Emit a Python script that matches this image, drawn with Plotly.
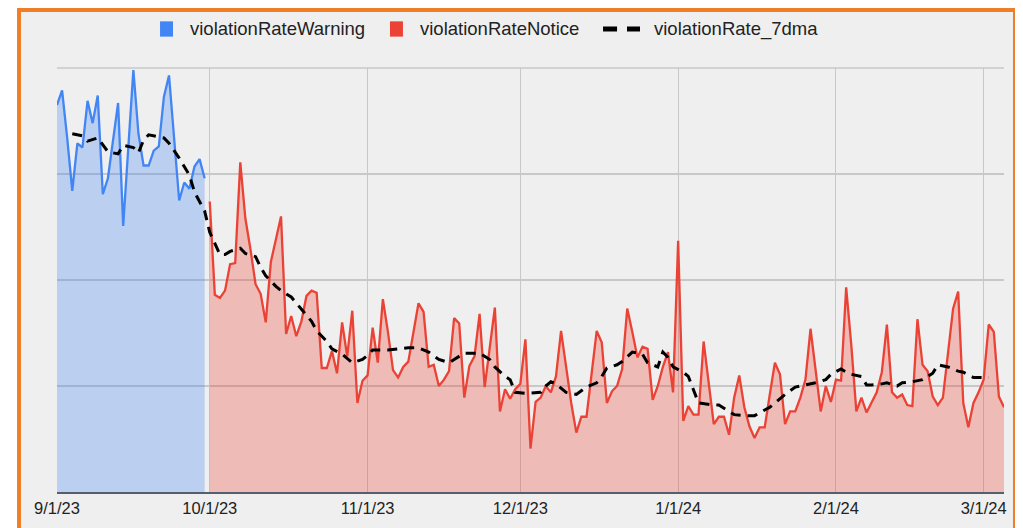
import pandas as pd
import plotly.graph_objects as go

# ---- data ----
warning_start = "2023-09-01"
warning = [3.65, 3.79, 3.34, 2.84, 3.29, 3.25, 3.69, 3.48, 3.74, 2.81,
           2.96, 3.32, 3.67, 2.51, 3.24, 3.98, 3.38, 3.08, 3.08, 3.22,
           3.26, 3.73, 3.93, 3.34, 2.75, 2.92, 2.86, 3.07, 3.14, 2.96]

notice_start = "2023-10-01"
notice = [2.74, 1.86, 1.83, 1.90, 2.15, 2.16, 3.11, 2.58, 2.29, 1.96,
          1.87, 1.60, 2.17, 2.39, 2.60, 1.49, 1.66, 1.47, 1.61, 1.85,
          1.90, 1.88, 1.17, 1.17, 1.33, 1.12, 1.60, 1.28, 1.71, 0.84,
          1.05, 1.10, 1.55, 1.22, 1.82, 1.51, 1.15, 1.08, 1.18, 1.23,
          1.51, 1.78, 1.70, 1.18, 1.20, 1.00, 1.06, 1.14, 1.64, 1.59,
          0.89, 1.19, 1.28, 1.68, 0.99, 1.37, 1.74, 0.76, 0.97, 0.88,
          0.97, 1.02, 1.44, 0.41, 0.85, 0.89, 1.00, 0.94, 1.09, 1.52,
          1.16, 0.84, 0.56, 0.71, 0.71, 1.13, 1.52, 1.41, 0.84, 0.95,
          1.00, 1.16, 1.73, 1.51, 1.27, 1.37, 1.35, 0.87, 1.00, 1.18,
          1.32, 0.94, 2.37, 0.67, 0.81, 0.73, 0.73, 1.42, 1.00, 0.64,
          0.71, 0.71, 0.54, 0.89, 1.10, 0.80, 0.62, 0.51, 0.61, 0.61,
          0.92, 1.22, 1.11, 0.64, 0.76, 0.76, 0.89, 1.06, 1.54, 1.13,
          0.76, 1.00, 0.85, 1.06, 1.05, 1.93, 1.39, 0.76, 0.89, 0.75,
          0.84, 0.94, 1.13, 1.58, 0.94, 0.89, 0.92, 0.82, 0.81, 1.63,
          1.20, 1.14, 0.90, 0.82, 0.89, 1.32, 1.73, 1.89, 0.84, 0.61,
          0.84, 0.94, 1.06, 1.58, 1.51, 0.90, 0.80]

ma_dates = ["2023-09-04", "2023-09-06", "2023-09-07", "2023-09-09", "2023-09-11",
            "2023-09-13", "2023-09-14", "2023-09-16", "2023-09-17", "2023-09-18",
            "2023-09-19", "2023-09-22", "2023-09-23", "2023-09-25", "2023-09-27",
            "2023-09-28", "2023-09-30", "2023-10-01", "2023-10-03", "2023-10-04",
            "2023-10-05", "2023-10-07", "2023-10-08", "2023-10-10", "2023-10-11",
            "2023-10-12", "2023-10-14", "2023-10-15", "2023-10-17", "2023-10-19",
            "2023-10-21", "2023-10-22", "2023-10-24", "2023-10-25", "2023-10-27",
            "2023-10-29", "2023-10-31", "2023-11-01", "2023-11-02", "2023-11-05",
            "2023-11-07", "2023-11-09", "2023-11-11", "2023-11-13", "2023-11-15",
            "2023-11-17", "2023-11-18", "2023-11-20", "2023-11-22", "2023-11-23",
            "2023-11-25", "2023-11-26", "2023-11-28", "2023-11-29", "2023-11-30",
            "2023-12-02", "2023-12-05", "2023-12-06", "2023-12-07", "2023-12-08",
            "2023-12-10", "2023-12-12", "2023-12-14", "2023-12-16", "2023-12-17",
            "2023-12-18", "2023-12-20", "2023-12-21", "2023-12-23", "2023-12-25",
            "2023-12-26", "2023-12-28", "2023-12-29", "2023-12-30", "2023-12-31",
            "2024-01-02", "2024-01-03", "2024-01-04", "2024-01-05", "2024-01-08",
            "2024-01-09", "2024-01-11", "2024-01-12", "2024-01-14", "2024-01-16",
            "2024-01-19", "2024-01-20", "2024-01-22", "2024-01-24", "2024-01-26",
            "2024-01-28", "2024-01-30", "2024-01-31", "2024-02-02", "2024-02-03",
            "2024-02-04", "2024-02-06", "2024-02-07", "2024-02-08", "2024-02-10",
            "2024-02-11", "2024-02-13", "2024-02-14", "2024-02-16", "2024-02-18",
            "2024-02-20", "2024-02-21", "2024-02-23", "2024-02-25", "2024-02-26",
            "2024-02-28", "2024-03-02"]
ma_values = [3.38, 3.36, 3.31, 3.34, 3.21, 3.19, 3.27, 3.25, 3.20, 3.32,
             3.37, 3.34, 3.29, 3.15, 2.99, 2.83, 2.65, 2.45, 2.24, 2.24,
             2.27, 2.30, 2.25, 2.22, 2.12, 2.04, 1.94, 1.90, 1.84, 1.73,
             1.61, 1.52, 1.42, 1.35, 1.30, 1.22, 1.25, 1.29, 1.34, 1.34,
             1.35, 1.36, 1.36, 1.32, 1.25, 1.22, 1.25, 1.31, 1.31, 1.31,
             1.25, 1.18, 1.09, 1.06, 0.94, 0.93, 0.94, 1.00, 1.04, 1.02,
             0.94, 0.92, 0.99, 1.03, 1.09, 1.17, 1.20, 1.23, 1.32, 1.30,
             1.22, 1.18, 1.32, 1.27, 1.18, 1.13, 1.09, 0.97, 0.84, 0.82,
             0.82, 0.76, 0.73, 0.72, 0.72, 0.80, 0.84, 0.92, 0.99, 1.01,
             1.03, 1.06, 1.11, 1.16, 1.13, 1.11, 1.09, 1.01, 1.01, 1.02,
             1.03, 1.00, 1.03, 1.04, 1.06, 1.12, 1.20, 1.18, 1.14, 1.13,
             1.08, 1.08]

x_range = ["2023-09-01", "2024-03-05"]
names = ["violationRateWarning", "violationRateNotice", "violationRate_7dma"]

BLUE = "#4285F4"
RED = "#EA4335"
BG = "#efefef"
GRID = "#c8c8c8"
FONT = "Liberation Sans, Arial, sans-serif"

w_dates = pd.date_range(warning_start, periods=len(warning))
n_dates = pd.date_range(notice_start, periods=len(notice))

fig = go.Figure()
fig.add_trace(go.Scatter(x=w_dates, y=warning, mode="lines", fill="tozeroy",
                         name=names[0], line=dict(color=BLUE, width=2.3),
                         fillcolor="rgba(66,133,244,0.3)", showlegend=False))
fig.add_trace(go.Scatter(x=n_dates, y=notice, mode="lines", fill="tozeroy",
                         name=names[1], line=dict(color=RED, width=2.3),
                         fillcolor="rgba(234,67,53,0.3)", showlegend=False))
fig.add_trace(go.Scatter(x=pd.to_datetime(ma_dates), y=ma_values, mode="lines",
                         name=names[2],
                         line=dict(color="black", width=3, dash="10px,7px"),
                         showlegend=False))

# panel background with orange frame (page body adds an 8px offset)
fig.add_shape(type="rect", xref="paper", yref="paper",
              x0=-0.0401, x1=1.0116, y0=-0.2, y1=1.137,
              line=dict(color="#F07E26", width=4), fillcolor=BG, layer="below")
# top gridline of the plot area
fig.add_shape(type="line", xref="paper", yref="paper", x0=0, x1=1, y0=1, y1=1,
              line=dict(color=GRID, width=1.5), layer="below")

# legend drawn as swatches + labels in paper coordinates
LEG_Y = 1.092
swatches = [(0.1088, 0.1225, BLUE), (0.3516, 0.3653, RED)]
for x0, x1, col in swatches:
    fig.add_shape(type="rect", xref="paper", yref="paper", x0=x0, x1=x1,
                  y0=LEG_Y - 0.018, y1=LEG_Y + 0.018,
                  line=dict(width=0), fillcolor=col)
for x0, x1 in [(0.5766, 0.5914), (0.6019, 0.6156)]:
    fig.add_shape(type="line", xref="paper", yref="paper", x0=x0, x1=x1,
                  y0=LEG_Y, y1=LEG_Y, line=dict(color="black", width=5))
for xl, label in zip([0.1383, 0.3812, 0.6283], names):
    fig.add_annotation(xref="paper", yref="paper", x=xl, y=LEG_Y, text=label,
                       showarrow=False, xanchor="left", yanchor="middle",
                       font=dict(size=18.5, color="#222222"))

fig.update_layout(
    width=1015, height=520,
    margin=dict(l=49, r=19, t=60, b=36),
    paper_bgcolor="white", plot_bgcolor=BG,
    font=dict(family=FONT, size=16, color="#222222"),
    showlegend=False,
    hovermode=False,
)
fig.update_xaxes(type="date", range=x_range, dtick="M1", tick0="2023-09-01",
                 tickformat="%-m/%-d/%y", showgrid=True, gridcolor=GRID,
                 gridwidth=1, showline=True, linecolor="#55606e", linewidth=2,
                 ticks="", tickfont=dict(size=16.5, color="#222222"), zeroline=False)
fig.update_yaxes(range=[0, 4], dtick=1, showticklabels=False, showgrid=True,
                 gridcolor=GRID, gridwidth=1.5, zeroline=False, ticks="")

fig.write_html("out.html")
